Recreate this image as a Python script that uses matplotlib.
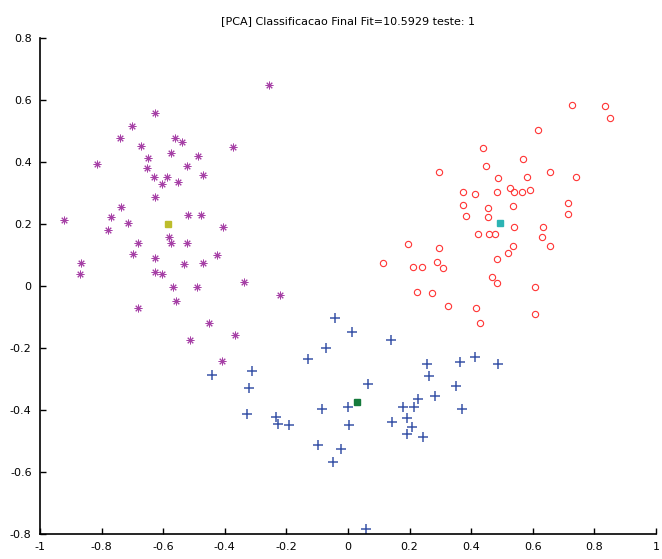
import numpy as np
import matplotlib
matplotlib.use("Agg")
import matplotlib.pyplot as plt

# Data (PCA components, 3 classes + centroids)
title = "[PCA] Classificacao Final Fit=10.5929 teste: 1"

class1_x = [-0.256, -0.627, -0.701, -0.740, -0.672, -0.562, -0.539, -0.373, -0.815, -0.649,
            -0.575, -0.487, -0.523, -0.653, -0.471, -0.630, -0.588, -0.604, -0.552, -0.627,
            -0.737, -0.769, -0.922, -0.714, -0.779, -0.519, -0.477, -0.406, -0.581, -0.575,
            -0.523, -0.682, -0.698, -0.627, -0.627, -0.604, -0.867, -0.870, -0.532, -0.471,
            -0.425, -0.568, -0.490, -0.338, -0.221, -0.558, -0.682, -0.451, -0.513, -0.367,
            -0.409]
class1_y = [0.648, 0.558, 0.516, 0.477, 0.452, 0.477, 0.465, 0.448, 0.394, 0.413,
            0.429, 0.419, 0.387, 0.381, 0.358, 0.352, 0.352, 0.329, 0.335, 0.287,
            0.255, 0.223, 0.213, 0.203, 0.181, 0.229, 0.229, 0.190, 0.158, 0.139,
            0.139, 0.139, 0.103, 0.090, 0.045, 0.039, 0.074, 0.039, 0.071, 0.074,
            0.100, -0.003, -0.003, 0.013, -0.029, -0.048, -0.071, -0.119, -0.174, -0.158,
            -0.242]

class2_x = [0.727, 0.834, 0.851, 0.617, 0.438, 0.568, 0.448, 0.295, 0.656, 0.581,
            0.740, 0.487, 0.373, 0.412, 0.484, 0.526, 0.539, 0.565, 0.591, 0.373,
            0.383, 0.455, 0.455, 0.536, 0.714, 0.714, 0.539, 0.633, 0.630, 0.422,
            0.458, 0.477, 0.195, 0.295, 0.536, 0.656, 0.519, 0.484, 0.114, 0.211,
            0.240, 0.289, 0.308, 0.468, 0.484, 0.607, 0.224, 0.273, 0.325, 0.416,
            0.429, 0.607]
class2_y = [0.584, 0.581, 0.542, 0.503, 0.445, 0.410, 0.387, 0.368, 0.368, 0.352,
            0.352, 0.348, 0.303, 0.297, 0.303, 0.316, 0.303, 0.303, 0.310, 0.261,
            0.226, 0.252, 0.223, 0.258, 0.268, 0.232, 0.190, 0.190, 0.158, 0.168,
            0.168, 0.168, 0.135, 0.123, 0.129, 0.129, 0.106, 0.087, 0.074, 0.061,
            0.061, 0.077, 0.058, 0.029, 0.010, -0.003, -0.019, -0.023, -0.065, -0.071,
            -0.119, -0.090]

class3_x = [-0.042, 0.013, -0.071, -0.130, -0.442, -0.312, -0.321, -0.328, -0.234, -0.227,
            -0.192, -0.084, 0.000, 0.003, -0.097, -0.023, -0.049, 0.140, 0.256, 0.263,
            0.364, 0.412, 0.487, 0.065, 0.351, 0.227, 0.282, 0.179, 0.214, 0.370,
            0.143, 0.192, 0.208, 0.192, 0.244, 0.058]
class3_y = [-0.103, -0.148, -0.200, -0.235, -0.287, -0.274, -0.329, -0.413, -0.423, -0.445,
            -0.448, -0.397, -0.390, -0.448, -0.513, -0.526, -0.568, -0.174, -0.252, -0.290,
            -0.245, -0.229, -0.252, -0.316, -0.323, -0.365, -0.355, -0.390, -0.390, -0.397,
            -0.439, -0.426, -0.455, -0.477, -0.487, -0.784]

# centroids
cent_x = [-0.584, 0.494, 0.029]
cent_y = [0.200, 0.203, -0.374]

ticks = [-1, -0.8, -0.6, -0.4, -0.2, 0, 0.2, 0.4, 0.6, 0.8, 1]
yticks = [-0.8, -0.6, -0.4, -0.2, 0, 0.2, 0.4, 0.6, 0.8]

fig = plt.figure(figsize=(6.62, 5.59), dpi=100)
ax = fig.add_axes([0.0604, 0.0447, 0.9306, 0.8873])

# asterisk marker like matlab '*'
ax.plot(class1_x, class1_y, linestyle="none", marker=(8, 2, 0), markersize=5.5,
        markeredgewidth=0.7, color="#a640a6")
ax.plot(class2_x, class2_y, linestyle="none", marker="o", markersize=4.5,
        markeredgewidth=0.8, markerfacecolor="none", markeredgecolor="#ff3535")
ax.plot(class3_x, class3_y, linestyle="none", marker="+", markersize=7,
        markeredgewidth=1.1, color="#3a55a8")

cent_cols = ["#bdbd2c", "#2cb4b4", "#157a3c"]
for cx, cy, cc in zip(cent_x, cent_y, cent_cols):
    ax.plot(cx, cy, linestyle="none", marker="s", markersize=4.5, color=cc)

ax.set_xlim(-1, 1)
ax.set_ylim(-0.8, 0.8)
ax.set_xticks(ticks)
ax.set_yticks(yticks)
ax.set_xticklabels([("%g" % t) for t in ticks])
ax.set_yticklabels([("%g" % t) for t in yticks])
ax.tick_params(direction="in", length=4, width=1, labelsize=8, pad=6)
ax.spines["top"].set_visible(False)
ax.spines["right"].set_visible(False)
ax.spines["left"].set_linewidth(1.2)
ax.spines["bottom"].set_linewidth(1.2)
ax.set_title(title, fontsize=8, pad=10)

fig.savefig("out.png", dpi=100)
